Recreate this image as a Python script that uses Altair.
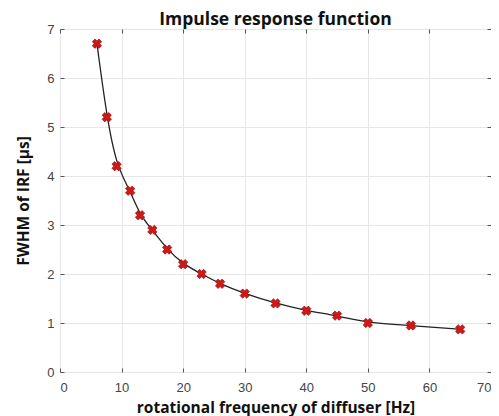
import altair as alt
import pandas as pd

freq = [6, 7.6, 9.2, 11.4, 13, 15, 17.4, 20, 23, 26, 30, 35, 40, 45, 50, 57, 65]
fwhm = [6.7, 5.2, 4.2, 3.7, 3.2, 2.9, 2.5, 2.2, 2.0, 1.8, 1.6, 1.4, 1.25, 1.15, 1.0, 0.95, 0.87]
x_ticks = [0, 10, 20, 30, 40, 50, 60, 70]
y_ticks = [0, 1, 2, 3, 4, 5, 6, 7]

df = pd.DataFrame({"f": freq, "w": fwhm})

lab_font = "Liberation Sans"
tit_font = "Open Sans"

xs = alt.Scale(domain=[0, 70], nice=False)
ys = alt.Scale(domain=[0, 7], nice=False)

x_bottom = alt.X("f:Q", scale=xs, axis=alt.Axis(
    values=x_ticks, orient="bottom", offset=-4, tickSize=4, domain=False,
    labelPadding=9, grid=True, gridColor="#e6e6e6", tickColor="#555",
    labelColor="#444", labelFont=lab_font, labelFontSize=13,
    title="rotational frequency of diffuser [Hz]", titleFont=tit_font,
    titleFontSize=15.5, titleFontWeight="bold", titleColor="#111", titlePadding=6))
y_left = alt.Y("w:Q", scale=ys, axis=alt.Axis(
    values=y_ticks, orient="left", offset=-4, tickSize=4, domain=False,
    labelPadding=6, grid=True, gridColor="#e6e6e6", tickColor="#555",
    labelColor="#444", labelFont=lab_font, labelFontSize=13,
    title="FWHM of IRF [µs]", titleFont=tit_font, titleFontSize=15.5,
    titleFontWeight="bold", titleColor="#111", titlePadding=15))

x_top = alt.X("f:Q", scale=xs, axis=alt.Axis(
    values=x_ticks, orient="top", offset=-4, tickSize=4, domain=False,
    labels=False, grid=False, tickColor="#555", title=None))
y_right = alt.Y("w:Q", scale=ys, axis=alt.Axis(
    values=y_ticks, orient="right", offset=-4, tickSize=4, domain=False,
    labels=False, grid=False, tickColor="#555", title=None))

line = alt.Chart(df).mark_line(color="#222", strokeWidth=1.3, interpolate="basis").encode(
    x=x_top, y=y_right)

pts = alt.Chart(df).mark_point(shape="cross", angle=45, filled=True, color="#d01818",
                               size=90, opacity=1, stroke="#8a0a0a", strokeWidth=0.6).encode(
    x=x_bottom, y=y_left)

chart = alt.layer(line, pts).resolve_axis(x="independent", y="independent").properties(
    width=431, height=343,
    autosize=alt.AutoSizeParams(type="none"),
    padding={"left": 52, "top": 21, "right": 0, "bottom": 44},
    title=alt.TitleParams("Impulse response function", font=tit_font, fontSize=17.5,
                          fontWeight="bold", color="#111", anchor="middle", offset=-5),
).configure_view(stroke="#777", strokeWidth=1).configure(background="white")

chart.save("out.html", embed_options={"renderer": "svg", "actions": False})
